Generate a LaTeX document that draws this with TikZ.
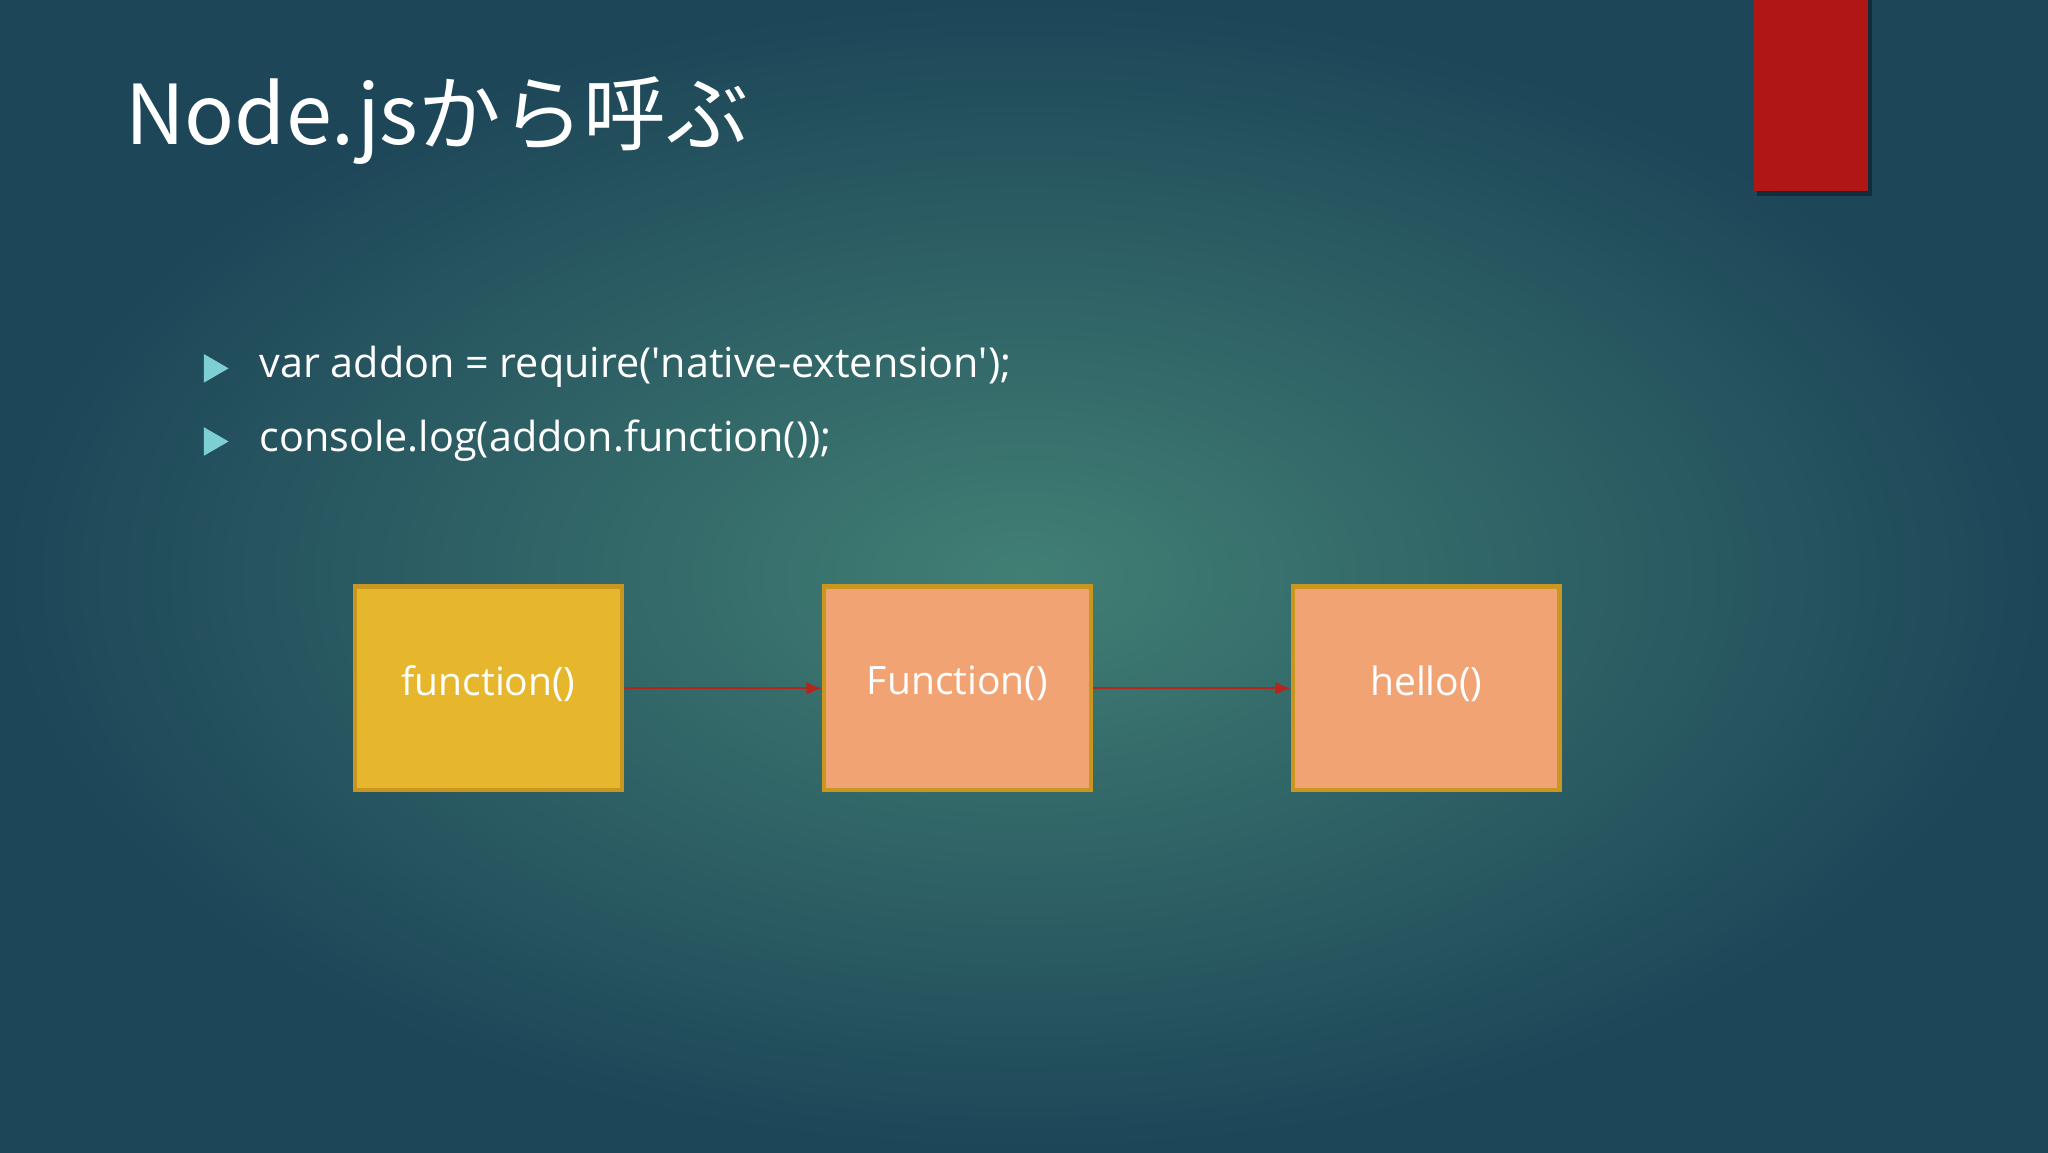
\documentclass[tikz,border=0pt]{standalone}
\usepackage{fontspec}
\setmainfont[Ligatures=NoCommon]{Open Sans}
\newfontfamily\jpfont{Noto Sans CJK JP}
\usetikzlibrary{arrows.meta}
\definecolor{bgin}{HTML}{417F74}
\definecolor{bgout}{HTML}{1D4658}
\definecolor{boxy}{HTML}{E6B72C}
\definecolor{boxo}{HTML}{F2A374}
\definecolor{boxline}{HTML}{C9961F}
\definecolor{redbar}{HTML}{B01616}
\definecolor{bul}{HTML}{7ECFD3}
\definecolor{arr}{HTML}{B3261E}
\tikzset{
 fbox/.style={draw=boxline, line width=0.9pt, minimum width=2.04cm, minimum height=1.56cm, inner sep=0pt, text=white, font=\fontsize{8.5pt}{10pt}\selectfont},
 link/.style={draw=arr, line width=0.5pt, -{Latex[length=1.2mm,width=1mm]}},
 bullet/.style={fill=bul, draw=none},
 btext/.style={anchor=west, text=white, font=\fontsize{9pt}{11pt}\selectfont, inner sep=0pt}
}
\begin{document}
\begin{tikzpicture}
\useasboundingbox (0,0) rectangle (15.68,8.82);
\shade[inner color=bgin, outer color=bgout] (0,0) rectangle (15.68,8.82);
\fill[black,opacity=0.35] (13.45,7.32) rectangle (14.33,8.82);
\fill[redbar] (13.43,7.36) rectangle (14.30,8.82);
\node[anchor=west, text=white, inner sep=0pt, font=\jpfont\fontsize{18pt}{22pt}\selectfont] (title) at (0.95,7.90) {Node.jsから呼ぶ};
\fill[bullet] (1.56,6.11) -- (1.56,5.89) -- (1.75,6.00) -- cycle;
\fill[bullet] (1.56,5.55) -- (1.56,5.33) -- (1.75,5.44) -- cycle;
\node[btext] (b1) at (1.98,6.01) {var addon = require(\textquotesingle native-extension\textquotesingle);};
\node[btext] (b2) at (1.98,5.45) {console.log(addon.function());};
\node[fbox, fill=boxy] (f1) at (3.74,3.55) {\raisebox{0.12cm}{function()}};
\node[fbox, fill=boxo] (f2) at (7.33,3.55) {\raisebox{0.12cm}{Function()}};
\node[fbox, fill=boxo] (f3) at (10.92,3.55) {\raisebox{0.12cm}{hello()}};
\draw[link] (f1.east) -- (f2.west);
\draw[link] (f2.east) -- (f3.west);
\end{tikzpicture}
\end{document}
